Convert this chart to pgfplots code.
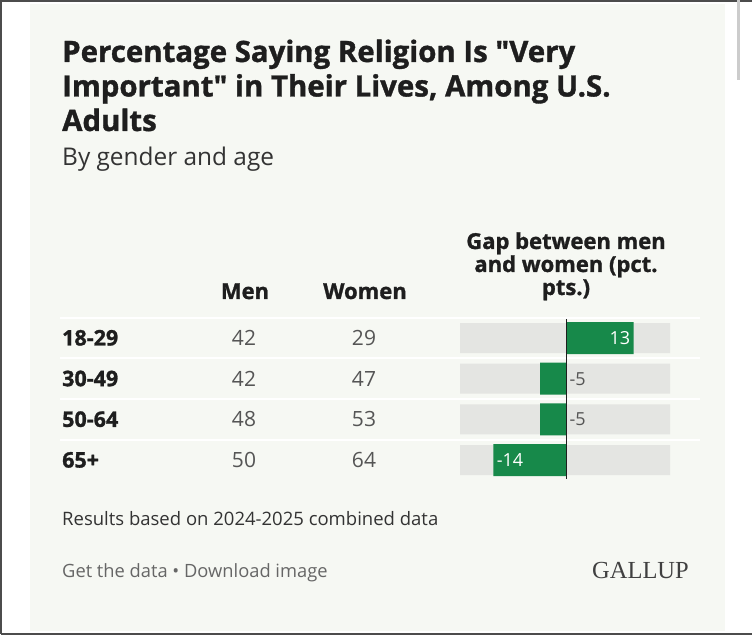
\documentclass[border=0pt]{standalone}
\usepackage{pgfplots}
\pgfplotsset{compat=1.18}
\usepackage{fontspec}
\setmainfont{Open Sans}[BoldFeatures={FakeBold=1.2}]
\newfontfamily\seriffont{Liberation Serif}
\definecolor{panel}{HTML}{F6F8F3}
\definecolor{gapgray}{HTML}{E4E5E2}
\definecolor{ggreen}{HTML}{17894A}
\definecolor{txt}{HTML}{1E1E1E}
\definecolor{num}{HTML}{555555}
\definecolor{foot}{HTML}{333333}
\definecolor{link}{HTML}{666666}
\begin{document}
\begin{tikzpicture}
\useasboundingbox (0,0) rectangle (752pt,636pt);
\begin{scope}[x=1pt,y=1pt]
\fill[white] (0,0) rectangle (752,636);
\fill[panel] (30,5) rectangle (725,632);
\draw[black!70, line width=1.5pt] (1,2) -- (1,635) -- (752,635);
\draw[black!70, line width=1.5pt] (1,2) -- (752,2);
\draw[black!20, line width=3pt] (738,636) -- (738,556);
% title
\begin{scope}[every node/.style={anchor=base west, inner sep=0pt, text=txt}]
\node[font=\bfseries\fontsize{29.4}{33}\selectfont] at (62,574) {Percentage Saying Religion Is \textquotedbl Very};
\node[font=\bfseries\fontsize{29.4}{33}\selectfont] at (62,539.5) {Important\textquotedbl\ in Their Lives, Among U.S.};
\node[font=\bfseries\fontsize{29.4}{33}\selectfont] at (62,505) {Adults};
\node[font=\fontsize{24.4}{27}\selectfont, text=foot] at (62,470) {By gender and age};
\node[font=\fontsize{18.5}{21}\selectfont, text=foot] at (62,110) {Results based on 2024-2025 combined data};
\node[font=\fontsize{18.3}{21}\selectfont, text=link] at (62,58) {Get the data \textbullet\ Download image};
\end{scope}
\node[anchor=base east, inner sep=0pt, text=black!75, font=\seriffont\fontsize{24.5}{28}\selectfont] at (689,57) {GALLUP};
% headers
\begin{scope}[every node/.style={anchor=base, inner sep=0pt, text=txt, font=\bfseries\fontsize{22}{25}\selectfont}]
\node at (245,337) {Men};
\node at (365,337) {Women};
\node at (566,387) {Gap between men};
\node at (566,364) {and women (pct.};
\node at (566,341) {pts.)};
\end{scope}
% row separators
\foreach \yy in {318.3,277.6,236.9,196.2} {\draw[white, line width=2pt] (60,\yy) -- (700,\yy);}
% row labels and values
\foreach \yy/\lab/\m/\w in {298/18-29/42/29, 257.3/30-49/42/47, 216.6/50-64/48/53, 175.9/65+/50/64} {
  \node[anchor=base west, inner sep=0pt, text=txt, font=\bfseries\fontsize{21.5}{24}\selectfont] at (62,\yy-7.5) {\lab};
  \node[anchor=base, inner sep=0pt, text=num, font=\fontsize{21}{24}\selectfont] at (244,\yy-7.5) {\m};
  \node[anchor=base, inner sep=0pt, text=num, font=\fontsize{21}{24}\selectfont] at (364,\yy-7.5) {\w};
}
\end{scope}
\begin{axis}[at={(460pt,318.3pt)}, anchor=north west, scale only axis,
  width=210pt, height=162.8pt, xmin=-20.4, xmax=20, ymin=-0.5, ymax=3.5,
  y dir=reverse, axis lines=none, ticks=none, xbar, bar shift=0pt, clip=false]
\addplot[fill=gapgray, draw=none, bar width=30pt] coordinates {(20,0) (20,1) (20,2) (20,3)};
\addplot[fill=gapgray, draw=none, bar width=30pt] coordinates {(-20.4,0) (-20.4,1) (-20.4,2) (-20.4,3)};
\addplot[fill=ggreen, draw=none, bar width=32pt] coordinates {(13,0) (-5,1) (-5,2) (-14,3)};
\draw[txt, line width=1pt] (axis cs:0,-0.46) -- (axis cs:0,3.46);
\node[anchor=east, text=white, font=\fontsize{18}{20}\selectfont] at (axis cs:13,0) {13};
\node[anchor=west, text=num, font=\fontsize{18}{20}\selectfont] at (axis cs:0,1) {-5};
\node[anchor=west, text=num, font=\fontsize{18}{20}\selectfont] at (axis cs:0,2) {-5};
\node[anchor=west, text=white, font=\fontsize{18}{20}\selectfont] at (axis cs:-14,3) {-14};
\end{axis}
\end{tikzpicture}
\end{document}
